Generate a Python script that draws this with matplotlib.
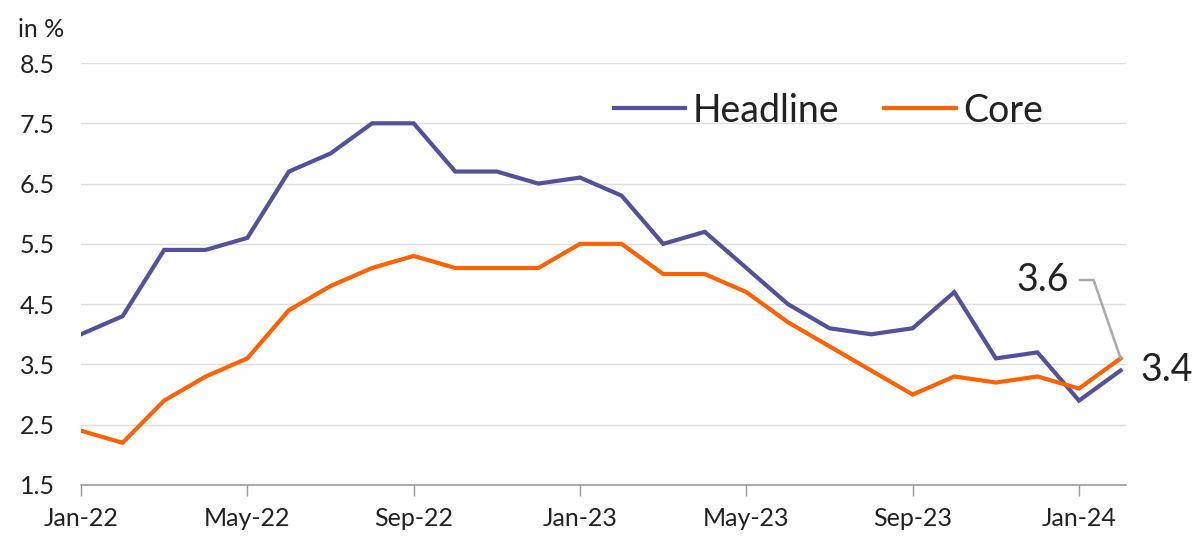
import matplotlib
matplotlib.use('Agg')
import matplotlib.pyplot as plt

plt.rcParams['font.family'] = ['Lato', 'DejaVu Sans']

# data (monthly, Jan-22 .. Feb-24)
months = ['Jan-22', 'Feb-22', 'Mar-22', 'Apr-22', 'May-22', 'Jun-22', 'Jul-22', 'Aug-22',
          'Sep-22', 'Oct-22', 'Nov-22', 'Dec-22', 'Jan-23', 'Feb-23', 'Mar-23', 'Apr-23',
          'May-23', 'Jun-23', 'Jul-23', 'Aug-23', 'Sep-23', 'Oct-23', 'Nov-23', 'Dec-23',
          'Jan-24', 'Feb-24']
headline = [4.0, 4.3, 5.4, 5.4, 5.6, 6.7, 7.0, 7.5, 7.5, 6.7, 6.7, 6.5, 6.6, 6.3, 5.5, 5.7,
            5.1, 4.5, 4.1, 4.0, 4.1, 4.7, 3.6, 3.7, 2.9, 3.4]
core = [2.4, 2.2, 2.9, 3.3, 3.6, 4.4, 4.8, 5.1, 5.3, 5.1, 5.1, 5.1, 5.5, 5.5, 5.0, 5.0,
        4.7, 4.2, 3.8, 3.4, 3.0, 3.3, 3.2, 3.3, 3.1, 3.6]
yticks = [1.5, 2.5, 3.5, 4.5, 5.5, 6.5, 7.5, 8.5]

PURPLE = '#525199'
ORANGE = '#FF6200'
TXT = '#222222'

fig = plt.figure(figsize=(12, 5.53), dpi=100)
ax = fig.add_axes([0.0675, 0.123, 0.8705, 0.763])

x = list(range(len(months)))
ax.plot(x, headline, color=PURPLE, lw=3, label='Headline', solid_joinstyle='miter')
ax.plot(x, core, color=ORANGE, lw=3, label='Core', solid_joinstyle='miter')

ax.set_xlim(0, 25.12)
ax.set_ylim(1.5, 8.5)
ax.set_yticks(yticks)
ax.set_yticklabels([f'{v:.1f}' for v in yticks])
ax.set_xticks(x[::4])
ax.set_xticklabels(months[::4])

for v in yticks[1:]:
    ax.axhline(v, color='#dedede', lw=1, zorder=0)

for s in ['top', 'right', 'left']:
    ax.spines[s].set_visible(False)
ax.spines['bottom'].set_color('#999999')
ax.spines['bottom'].set_linewidth(1.2)
ax.tick_params(axis='y', length=0, pad=19, labelsize=18, labelcolor=TXT)
ax.tick_params(axis='x', length=8, width=1, color='#999999', pad=8, labelsize=18, labelcolor=TXT)

fig.text(0.015, 0.946, 'in %', fontsize=18, color=TXT, ha='left', va='center')

leg = ax.legend(loc='upper left', bbox_to_anchor=(0.478, 1.01), ncol=2, frameon=False,
                fontsize=27, handlelength=1.9, handletextpad=0.2, columnspacing=1.2)
for t in leg.get_texts():
    t.set_color(TXT)

# end annotations
ax.annotate(f'{core[-1]:.1f}', xy=(25, core[-1]), xytext=(23.75, 4.9),
            fontsize=27, color=TXT, ha='right', va='center',
            arrowprops=dict(arrowstyle='-', color='#aaaaaa', lw=1.8,
                            connectionstyle='angle,angleA=0,angleB=109,rad=0',
                            shrinkA=6, shrinkB=0))
ax.annotate(f'{headline[-1]:.1f}', xy=(25, headline[-1]), xytext=(14, 0),
            textcoords='offset points', fontsize=27, color=TXT,
            ha='left', va='center', annotation_clip=False)

fig.savefig('out.png', dpi=100)
